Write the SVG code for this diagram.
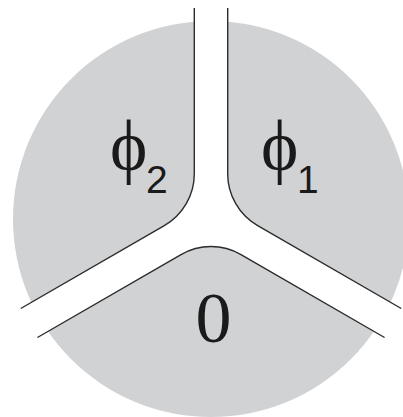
<svg xmlns="http://www.w3.org/2000/svg" width="403" height="417" viewBox="0 0 403 417">
<style>
.edge{fill:none;stroke:#2b2b2b;stroke-width:1.4;stroke-linecap:butt}
.phi{font-family:"Liberation Serif","DejaVu Serif","Times New Roman",serif;font-size:71px;fill:#1a1a1a}
.sub{font-family:"Liberation Sans",Arial,sans-serif;font-size:39px;fill:#1a1a1a}
.zero{font-family:"Liberation Serif","Times New Roman",serif;font-size:72px;fill:#1a1a1a}
</style>
<rect width="403" height="417" fill="#ffffff"/>
<circle id="disk" cx="211" cy="219" r="198" fill="#d1d2d4"/>
<path id="channel" fill="#ffffff" d="M194.3,8 V173.72 A60,60 0 0 1 164.3,225.68 L20.75,308.5 L37.45,337.5 L181,254.6 A60,60 0 0 1 241,254.6 L384.55,337.5 L401.25,308.5 L257.7,225.68 A60,60 0 0 1 227.7,173.72 V8 Z"/>
<g id="connectors">
<path class="edge" d="M194.3,8 V173.72 A60,60 0 0 1 164.3,225.68 L20.75,308.5"/>
<path class="edge" d="M227.7,8 V173.72 A60,60 0 0 0 257.7,225.68 L401.25,308.5"/>
<path class="edge" d="M37.45,337.5 L181,254.6 A60,60 0 0 1 241,254.6 L384.55,337.5"/>
</g>
<g id="region-phi2">
<text class="phi" x="110" y="170">ϕ</text>
<text class="sub" x="146" y="193">2</text>
</g>
<g id="region-phi1">
<text class="phi" x="261" y="170">ϕ</text>
<text class="sub" x="297" y="193">1</text>
</g>
<g id="region-zero">
<text class="zero" x="213.5" y="342" text-anchor="middle">0</text>
</g>
</svg>
